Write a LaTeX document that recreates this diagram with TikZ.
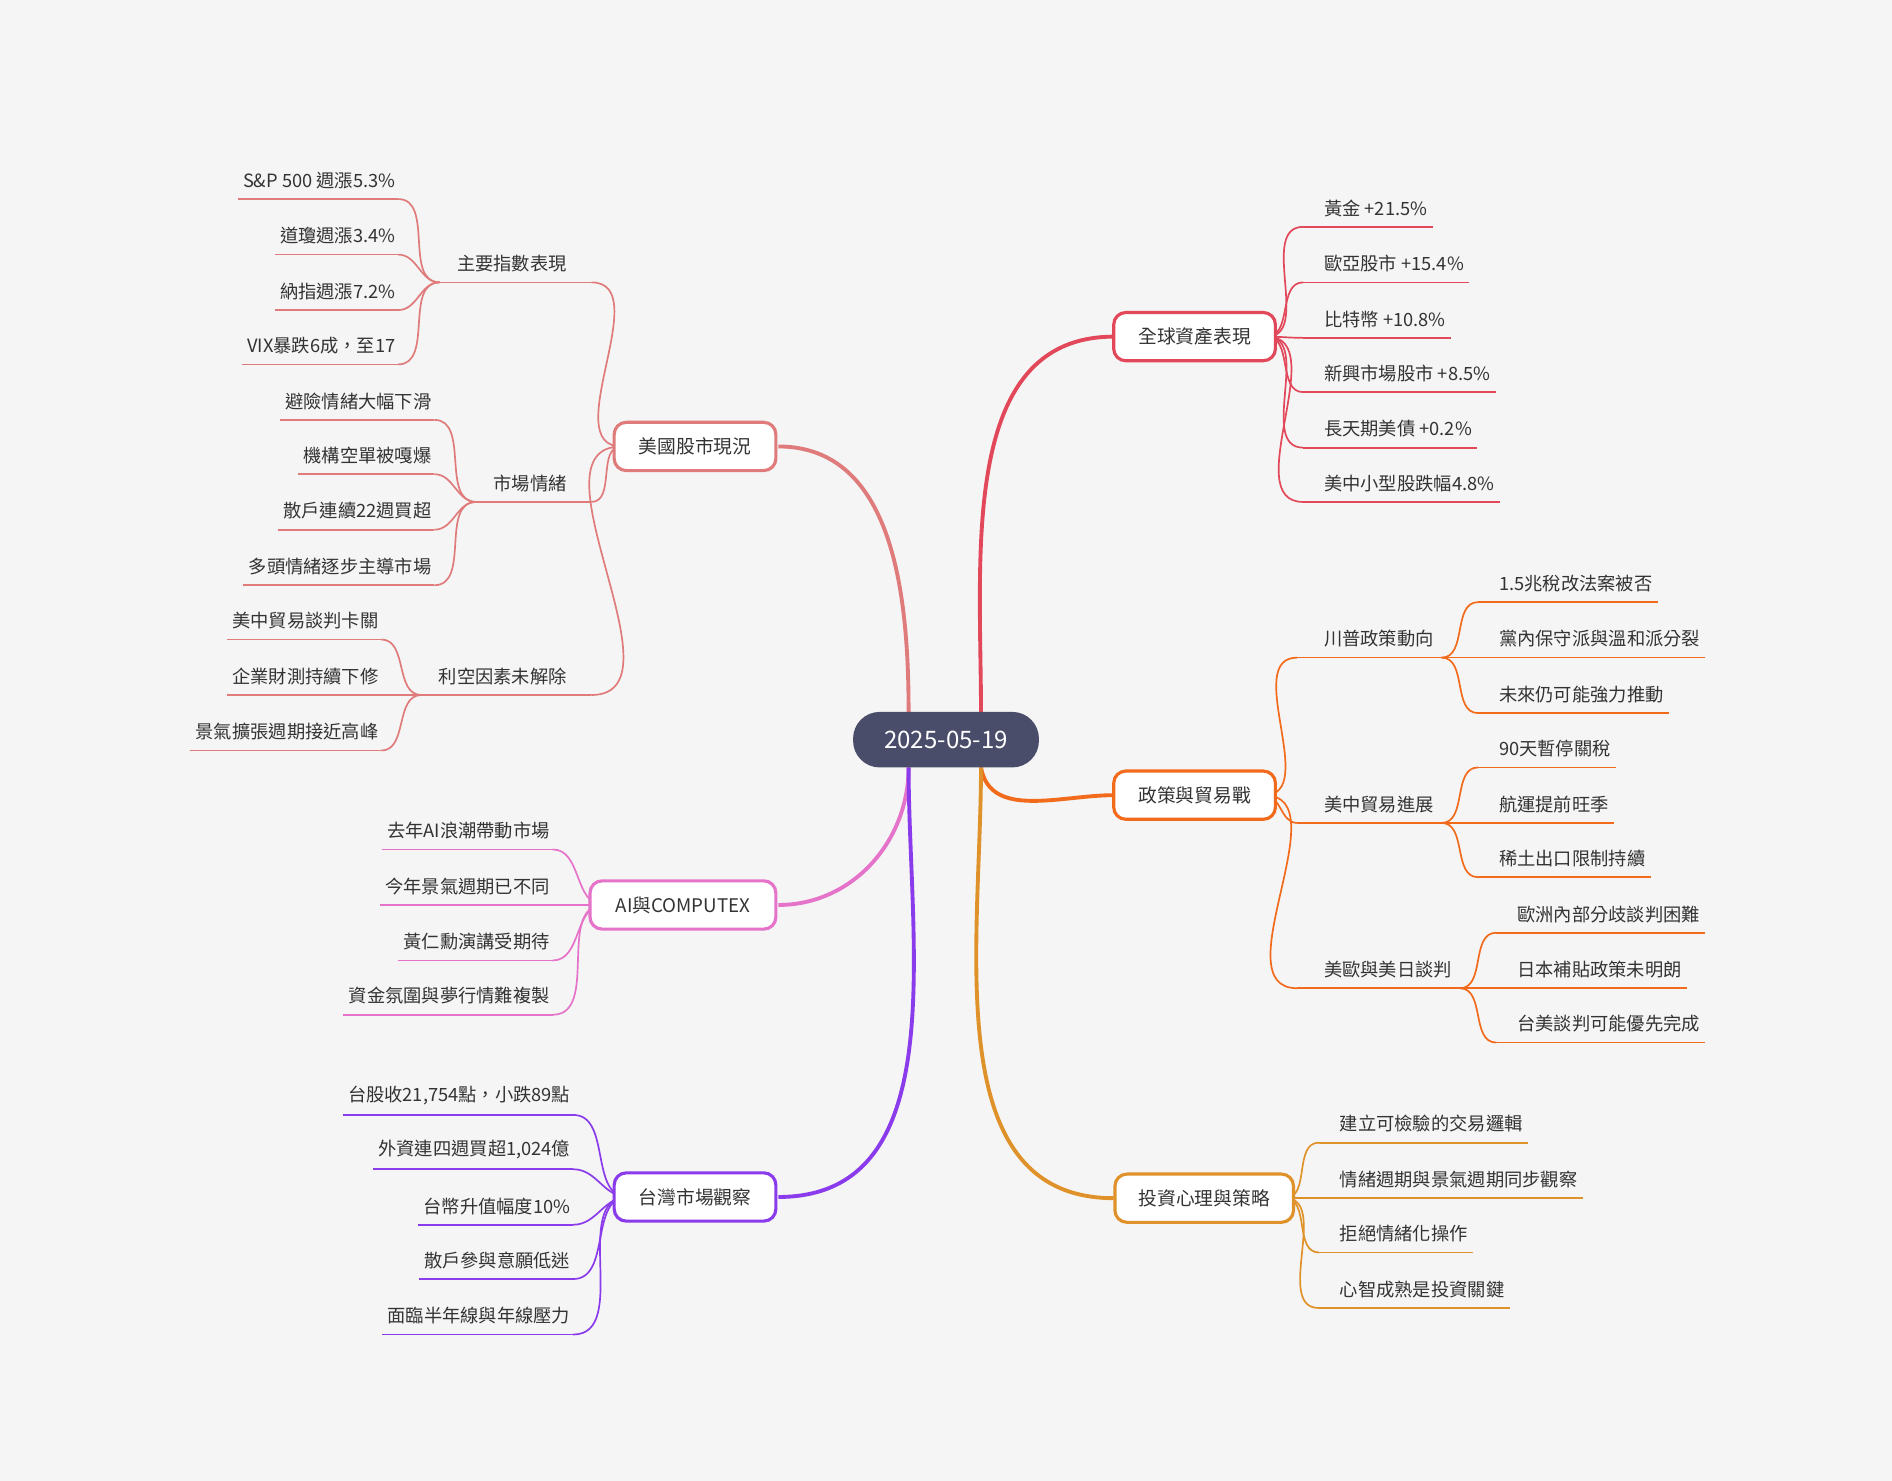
\documentclass[tikz,border=0pt]{standalone}
\usepackage{fontspec}
\setmainfont{Noto Sans CJK TC}
\begin{document}
\begin{tikzpicture}[x=0.5bp,y=-0.5bp,
 leaf/.style={inner xsep=1bp,inner ysep=4bp,font=\fontsize{7.6}{9}\selectfont,text=black!80},
 box/.style={draw,line width=1.3bp,rounded corners=5bp,fill=white,minimum width=67bp,minimum height=20bp,font=\fontsize{7.8}{9}\selectfont,text=black!80},
 br/.style={line width=1.6bp},
 ln/.style={line width=0.7bp}]
\definecolor{cR}{HTML}{E2485A}\definecolor{cO}{HTML}{F26A1B}\definecolor{cG}{HTML}{E0922A}
\definecolor{cS}{HTML}{E07B7B}\definecolor{cP}{HTML}{E573C9}\definecolor{cV}{HTML}{8A3BEB}
\definecolor{cC}{HTML}{4A4D6A}\definecolor{bg}{HTML}{F5F5F5}
\fill[bg] (0,0) rectangle (1568,1227);
\useasboundingbox (0,0) rectangle (1568,1227);
\newcommand\RL[5]{\node[leaf,anchor=south west] (#2) at ([xshift=7.5bp]#3) {#4}; \draw[#1,ln] ([xshift=-7.5bp]#2.south west)--([xshift=1bp]#2.south east); \draw[#1,ln] (#5) to[out=0,in=180] ([xshift=-7.5bp]#2.south west);}
\newcommand\LL[5]{\node[leaf,anchor=south east] (#2) at (#3) {#4}; \draw[#1,ln] ([xshift=-1bp]#2.south west)--(#2.south east); \draw[#1,ln] (#5) to[out=180,in=0] (#2.south east);}
\newcommand\RS[5]{\node[leaf,anchor=south west] (#2) at ([xshift=10bp]#3) {#4}; \draw[#1,ln] ([xshift=-10bp]#2.south west)--([xshift=2bp]#2.south east); \draw[#1,ln] (#5) to[out=0,in=180] ([xshift=-10bp]#2.south west);}
\newcommand\LS[5]{\node[leaf,anchor=south east] (#2) at ([xshift=-9bp]#3) {#4}; \draw[#1,ln] ([xshift=-6bp]#2.south west)--([xshift=9bp]#2.south east); \draw[#1,ln] (#5) to[out=180,in=0] ([xshift=9bp]#2.south east);}
\coordinate (cL1) at (753,590); \coordinate (cL2) at (753,636);
\coordinate (cR1) at (813,590); \coordinate (cR2) at (813,636);
\coordinate (gW) at (923,279); \coordinate (pW) at (923,659); \coordinate (sW) at (923,993);
\coordinate (uE) at (645,370); \coordinate (aE) at (645,750); \coordinate (tE) at (645,992);
\draw[cR,br] (cR1) to[out=90,in=180] (gW);
\draw[cO,br] (cR2) to[out=-80,in=180] (pW);
\draw[cG,br] (cR2) to[out=-90,in=180] (sW);
\draw[cS,br] (cL1) to[out=90,in=0] (uE);
\draw[cP,br] (cL2) to[out=-90,in=0] (aE);
\draw[cV,br] (cL2) to[out=-90,in=0] (tE);
\node[fill=cC,rounded corners=11bp,minimum width=77bp,minimum height=23bp,text=white,font=\fontsize{10}{12}\selectfont] (c) at (784,613) {2025-05-19};
% global
\RL{cR}{g1}{1080,188}{黃金 +21.5\%}{1050,279}
\RL{cR}{g2}{1080,234}{歐亞股市 +15.4\%}{1050,279}
\RL{cR}{g3}{1080,280}{比特幣 +10.8\%}{1050,279}
\RL{cR}{g4}{1080,325}{新興市場股市 +8.5\%}{1050,279}
\RL{cR}{g5}{1080,371}{長天期美債 +0.2\%}{1050,279}
\RL{cR}{g6}{1080,416}{美中小型股跌幅4.8\%}{1050,279}
% policy
\RS{cO}{p1}{1075,545}{川普政策動向}{1048,659}
\RS{cO}{p2}{1075,682}{美中貿易進展}{1048,659}
\RS{cO}{p3}{1075,819}{美歐與美日談判}{1048,659}
\RL{cO}{p11}{1225,499}{1.5兆稅改法案被否}{[xshift=2bp]p1.south east}
\RL{cO}{p12}{1225,545}{黨內保守派與溫和派分裂}{[xshift=2bp]p1.south east}
\RL{cO}{p13}{1225,591}{未來仍可能強力推動}{[xshift=2bp]p1.south east}
\RL{cO}{p21}{1225,636}{90天暫停關稅}{[xshift=2bp]p2.south east}
\RL{cO}{p22}{1225,682}{航運提前旺季}{[xshift=2bp]p2.south east}
\RL{cO}{p23}{1225,727}{稀土出口限制持續}{[xshift=2bp]p2.south east}
\RL{cO}{p31}{1240,773}{歐洲內部分歧談判困難}{[xshift=2bp]p3.south east}
\RL{cO}{p32}{1240,819}{日本補貼政策未明朗}{[xshift=2bp]p3.south east}
\RL{cO}{p33}{1240,864}{台美談判可能優先完成}{[xshift=2bp]p3.south east}
% strategy
\RL{cG}{s1}{1093,947}{建立可檢驗的交易邏輯}{1065,993}
\RL{cG}{s2}{1093,993}{情緒週期與景氣週期同步觀察}{1065,993}
\RL{cG}{s3}{1093,1038}{拒絕情緒化操作}{1065,993}
\RL{cG}{s4}{1093,1084}{心智成熟是投資關鍵}{1065,993}
% US
\LS{cS}{u1}{490,234}{主要指數表現}{515,370}
\LS{cS}{u2}{490,416}{市場情緒}{515,370}
\LS{cS}{u3}{490,576}{利空因素未解除}{515,370}
\LL{cS}{u11}{330,165}{S\&P 500 週漲5.3\%}{[xshift=-6bp]u1.south west}
\LL{cS}{u12}{330,211}{道瓊週漲3.4\%}{[xshift=-6bp]u1.south west}
\LL{cS}{u13}{330,257}{納指週漲7.2\%}{[xshift=-6bp]u1.south west}
\LL{cS}{u14}{330,302}{VIX暴跌6成，至17}{[xshift=-6bp]u1.south west}
\LL{cS}{u21}{360,348}{避險情緒大幅下滑}{[xshift=-6bp]u2.south west}
\LL{cS}{u22}{360,393}{機構空單被嘎爆}{[xshift=-6bp]u2.south west}
\LL{cS}{u23}{360,439}{散戶連續22週買超}{[xshift=-6bp]u2.south west}
\LL{cS}{u24}{360,485}{多頭情緒逐步主導市場}{[xshift=-6bp]u2.south west}
\LL{cS}{u31}{316,530}{美中貿易談判卡關}{[xshift=-6bp]u3.south west}
\LL{cS}{u32}{316,576}{企業財測持續下修}{[xshift=-6bp]u3.south west}
\LL{cS}{u33}{316,622}{景氣擴張週期接近高峰}{[xshift=-6bp]u3.south west}
% AI
\LL{cP}{a1}{458,704}{去年AI浪潮帶動市場}{500,750}
\LL{cP}{a2}{458,750}{今年景氣週期已不同}{500,750}
\LL{cP}{a3}{458,796}{黃仁勳演講受期待}{500,750}
\LL{cP}{a4}{458,841}{資金氛圍與夢行情難複製}{500,750}
% TW
\LL{cV}{t1}{475,924}{台股收21,754點，小跌89點}{520,992}
\LL{cV}{t2}{475,969}{外資連四週買超1,024億}{520,992}
\LL{cV}{t3}{475,1015}{台幣升值幅度10\%}{520,992}
\LL{cV}{t4}{475,1060}{散戶參與意願低迷}{520,992}
\LL{cV}{t5}{475,1106}{面臨半年線與年線壓力}{520,992}
% boxes on top
\node[box,draw=cR] (g) at (990,279) {全球資產表現};
\node[box,draw=cO] (p) at (990,659) {政策與貿易戰};
\node[box,draw=cG,minimum width=74bp] (s) at (998,993) {投資心理與策略};
\node[box,draw=cS] (u) at (576,370) {美國股市現況};
\node[box,draw=cP,minimum width=77bp] (a) at (566,750) {AI與COMPUTEX};
\node[box,draw=cV] (t) at (576,992) {台灣市場觀察};
\end{tikzpicture}
\end{document}
